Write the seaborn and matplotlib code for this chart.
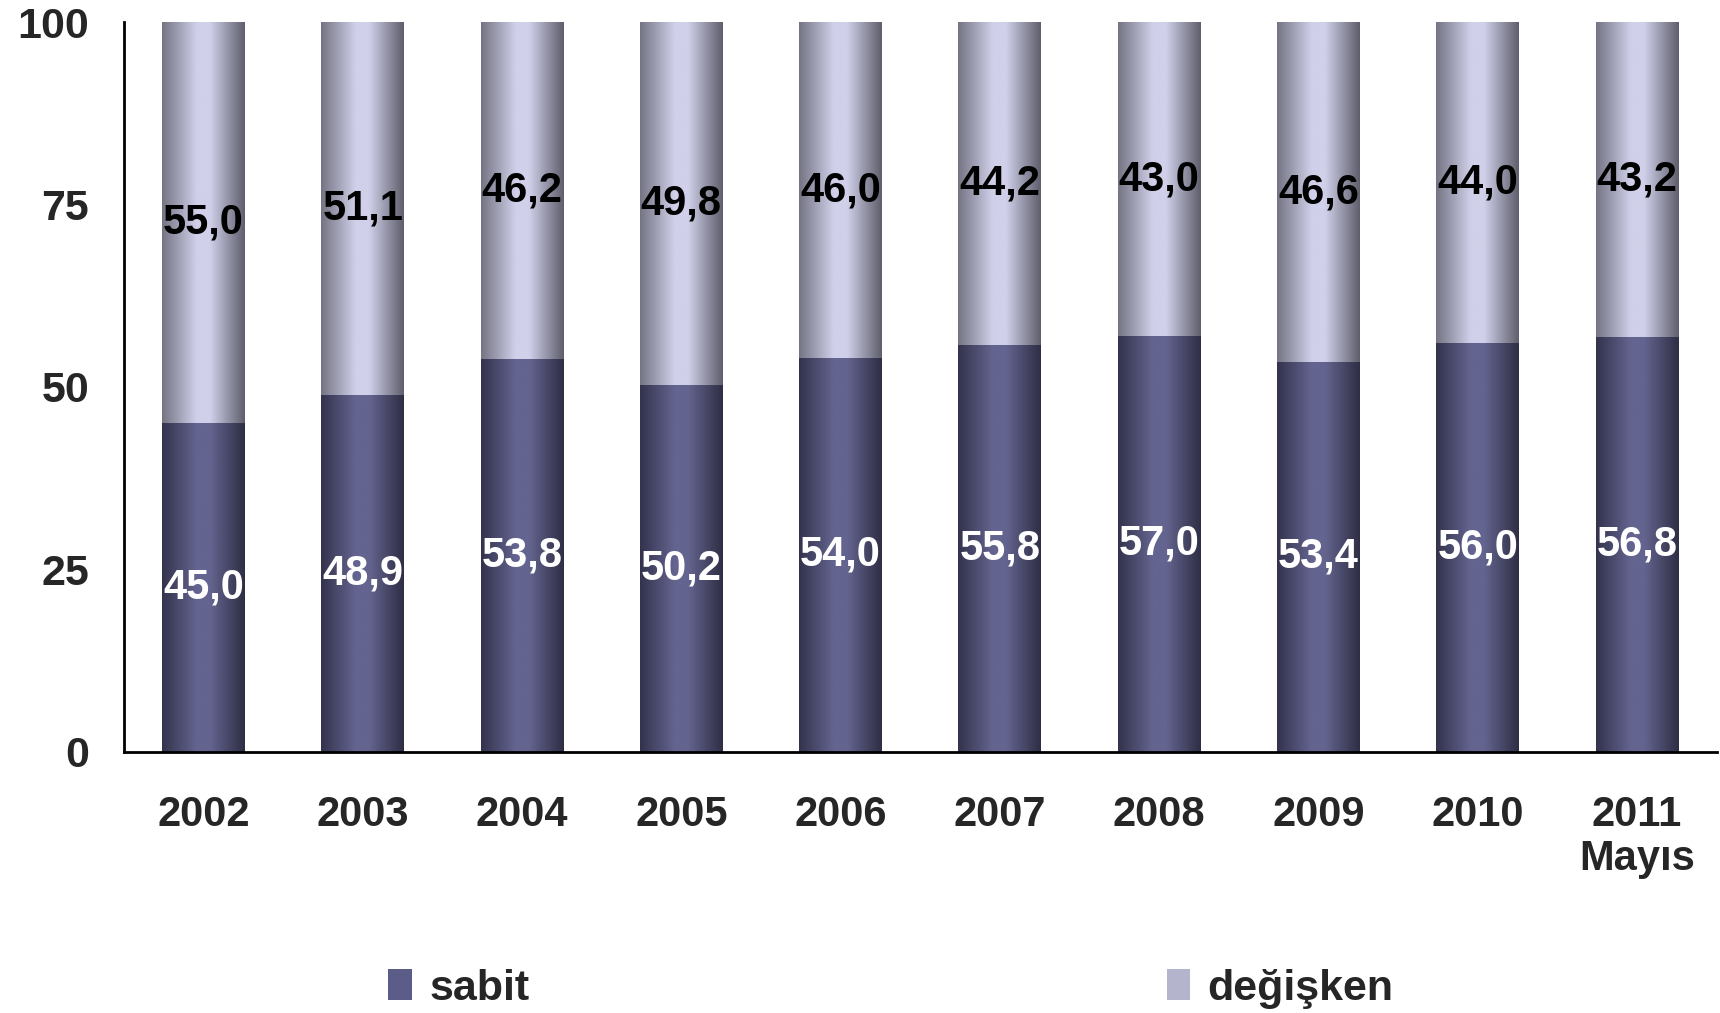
import numpy as np
import pandas as pd
import matplotlib
matplotlib.use("Agg")
import matplotlib.pyplot as plt
import seaborn as sns
from matplotlib.patches import Patch

years = ["2002", "2003", "2004", "2005", "2006", "2007", "2008", "2009", "2010", "2011\nMayıs"]
sabit = [45.0, 48.9, 53.8, 50.2, 54.0, 55.8, 57.0, 53.4, 56.0, 56.8]
degisken = [55.0, 51.1, 46.2, 49.8, 46.0, 44.2, 43.0, 46.6, 44.0, 43.2]

sns.set_style("white")
plt.rcParams["font.family"] = ["Liberation Sans", "DejaVu Sans"]
plt.rcParams["font.weight"] = "bold"


def fmt(v):
    return f"{v:.1f}".replace(".", ",")


def gradient(c_edge_l, c_mid, c_edge_r):
    # horizontal cylinder-like shading
    xs = np.linspace(0, 1, 200)
    cols = np.array([c_edge_l, c_mid, c_mid, c_edge_r]) / 255.0
    stops = [0.0, 0.42, 0.58, 1.0]
    img = np.stack([np.interp(xs, stops, cols[:, k]) for k in range(3)], axis=-1)
    return img[None, :, :]


df = pd.DataFrame({"year": years, "sabit": sabit, "degisken": degisken})
df["total"] = df["sabit"] + df["degisken"]

fig = plt.figure(figsize=(17.2, 10.13), dpi=100)
ax = fig.add_axes([0.072, 0.258, 0.926, 0.720])

sns.barplot(data=df, x="year", y="total", color="#b0b0c8", width=0.52,
            saturation=1, ax=ax)
sns.barplot(data=df, x="year", y="sabit", color="#5c5c88", width=0.52,
            saturation=1, ax=ax)

grad_deg = gradient((0x74, 0x74, 0x84), (0xd0, 0xd0, 0xea), (0x5e, 0x5e, 0x6c))
grad_sab = gradient((0x33, 0x33, 0x4d), (0x64, 0x64, 0x90), (0x2e, 0x2e, 0x44))

for cont, grad in [(ax.containers[0], grad_deg), (ax.containers[1], grad_sab)]:
    for p in cont.patches:
        x, y = p.get_x(), p.get_y()
        w, h = p.get_width(), p.get_height()
        ax.imshow(grad, extent=(x, x + w, y, y + h), aspect="auto",
                  zorder=p.get_zorder() + 0.1, interpolation="bilinear")

for i, p in enumerate(ax.containers[1].patches):
    cx = p.get_x() + p.get_width() / 2
    ax.text(cx, sabit[i] / 2, fmt(sabit[i]), ha="center", va="center",
            color="white", fontsize=30, fontweight="bold", zorder=5)
    ax.text(cx, sabit[i] + degisken[i] / 2, fmt(degisken[i]), ha="center",
            va="center", color="black", fontsize=30, fontweight="bold", zorder=5)

ax.set_xlim(-0.5, 9.5)
ax.set_ylim(0, 100)
ax.set_yticks([0, 25, 50, 75, 100])
ax.set_xlabel("")
ax.set_ylabel("")
sns.despine(ax=ax)
for s in ["left", "bottom"]:
    ax.spines[s].set_linewidth(2)
    ax.spines[s].set_color("black")

ax.set_xticks(np.arange(-0.5, 10, 1), minor=True)
ax.tick_params(axis="x", which="minor", length=10, width=2, direction="out", color="black")
ax.tick_params(axis="x", which="major", length=0, pad=31, labelsize=30)
ax.tick_params(axis="y", length=11, width=2, direction="out", pad=14,
               labelsize=31, color="black")
for lab in ax.get_xticklabels() + ax.get_yticklabels():
    lab.set_fontweight("bold")
    lab.set_linespacing(1.15)

handles = [Patch(facecolor="#5c5c88", edgecolor="none"),
           Patch(facecolor="#b4b4cc", edgecolor="none")]
fig.legend(handles, ["sabit", "değişken"], loc="center", ncol=2,
           bbox_to_anchor=(0.518, 0.024), frameon=False,
           prop={"size": 31, "weight": "bold"},
           handlelength=0.55, handleheight=0.75, handletextpad=0.4,
           columnspacing=14.8)

fig.savefig("out.png", dpi=100)
